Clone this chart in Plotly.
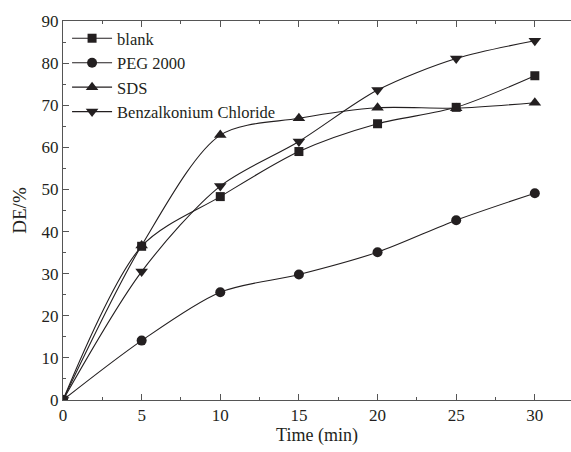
import plotly.graph_objects as go

time = [0, 5, 10, 15, 20, 25, 30]
blank = [0, 36.5, 48.3, 59.0, 65.6, 69.5, 77.0]
peg2000 = [0, 14.1, 25.6, 29.8, 35.1, 42.7, 49.1]
sds = [0, 36.7, 62.9, 66.9, 69.4, 69.3, 70.6]
benzalkonium = [0, 30.5, 50.8, 61.4, 73.6, 81.1, 85.3]

series = [
    ("blank", blank, "square", 9),
    ("PEG 2000", peg2000, "circle", 10),
    ("SDS", sds, "triangle-up", 11),
    ("Benzalkonium Chloride", benzalkonium, "triangle-down", 11),
]

FONT = "Liberation Serif, Times New Roman, serif"
INK = "#231f20"

fig = go.Figure()
for name, vals, sym, sz in series:
    fig.add_trace(go.Scatter(
        x=time, y=vals, name=name, mode="lines+markers",
        line=dict(color=INK, width=1.1, shape="spline", smoothing=0.85),
        marker=dict(symbol=sym, size=sz, color=INK),
    ))

fig.update_layout(
    width=571, height=452,
    margin=dict(l=63, r=0, t=21, b=52),
    paper_bgcolor="white", plot_bgcolor="white",
    font=dict(family=FONT, size=18, color=INK),
    showlegend=True,
    legend=dict(x=0.008, y=1.0, xanchor="left", yanchor="top",
                bgcolor="rgba(0,0,0,0)", font=dict(size=16.5, family=FONT),
                tracegroupgap=0, itemwidth=40),
    xaxis=dict(
        range=[0, 32.3], tickmode="array", tickvals=[0, 5, 10, 15, 20, 25, 30],
        showgrid=False, zeroline=False, showline=True, linecolor="#555", linewidth=1,
        mirror="ticks", ticks="inside", ticklen=6, tickcolor="#555",
        minor=dict(tickvals=[2.5, 7.5, 12.5, 17.5, 22.5, 27.5], ticks="inside", ticklen=3, tickcolor="#555"),
        title=dict(text="Time (min)", font=dict(size=18, family=FONT), standoff=2),
        tickfont=dict(size=17, family=FONT),
    ),
    yaxis=dict(
        range=[0, 90], tickmode="array", tickvals=list(range(0, 91, 10)),
        showgrid=False, zeroline=False, showline=True, linecolor="#555", linewidth=1,
        ticks="inside", ticklen=6, tickcolor="#555",
        minor=dict(tickvals=list(range(5, 90, 10)), ticks="inside", ticklen=3, tickcolor="#555"),
        title=dict(text="DE/%", font=dict(size=19, family=FONT), standoff=9),
        tickfont=dict(size=17, family=FONT),
    ),
)

fig.write_html("out.html")
